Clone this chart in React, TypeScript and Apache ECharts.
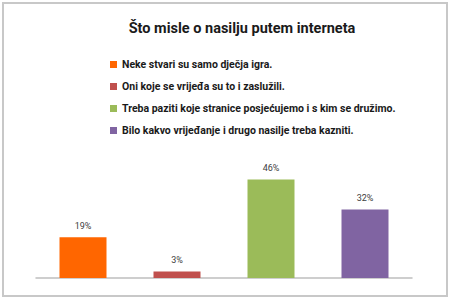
import React, { useEffect, useRef } from "react";
import * as echarts from "echarts";

const categories = ["A", "B", "C", "D"];
const seriesNames = [
  "Neke stvari su samo dječja igra.",
  "Oni koje se vrijeđa su to i zaslužili.",
  "Treba paziti koje stranice posjećujemo i s kim se družimo.",
  "Bilo kakvo vrijeđanje i drugo nasilje treba kazniti.",
];
const values = [19, 3, 46, 32];
const colors = ["#ff6600", "#c0504d", "#9bbb59", "#8064a2"];

export default function App() {
  const ref = useRef<HTMLDivElement>(null);
  useEffect(() => {
    const chart = echarts.init(ref.current!, null, { renderer: "svg" });
    const font = "Roboto, sans-serif";
    chart.setOption({
      animation: false,
      backgroundColor: "#ffffff",
      title: {
        text: "Što misle o nasilju putem interneta",
        left: 237,
        textAlign: "center",
        top: 16,
        textStyle: { fontFamily: font, fontSize: 14.5, fontWeight: "bold", color: "#1a1a1a" },
      },
      legend: {
        orient: "vertical",
        left: 105,
        top: 54,
        itemGap: 11,
        itemWidth: 7,
        itemHeight: 7,
        icon: "rect",
        data: seriesNames,
        textStyle: { fontFamily: font, fontSize: 10.5, fontWeight: "bold", color: "#1a1a1a" },
      },
      graphic: [
        {
          type: "rect",
          shape: { x: 3, y: 3, width: 444, height: 293 },
          style: { fill: "none", stroke: "#c8c8c8", lineWidth: 2 },
          silent: true,
        },
      ],
      grid: { left: 36, right: 38, top: 171, bottom: 21, containLabel: false },
      xAxis: {
        type: "category",
        data: categories,
        axisLine: { lineStyle: { color: "#bfbfbf", width: 1.5 } },
        axisTick: { show: false },
        axisLabel: { show: false },
      },
      yAxis: {
        type: "value",
        min: 0,
        max: 50,
        show: false,
        splitLine: { show: false },
      },
      series: seriesNames.map((name, i) => ({
        name,
        type: "bar",
        barWidth: 47,
        barGap: "-100%",
        itemStyle: { color: colors[i] },
        data: categories.map((_, j) => (j === i ? values[i] : null)),
        label: {
          show: true,
          position: "top",
          distance: 7,
          formatter: (p: any) => p.value + "%",
          fontFamily: font,
          fontSize: 9,
          color: "#404040",
        },
      })),
    });
    return () => chart.dispose();
  }, []);
  return <div ref={ref} style={{ position: "fixed", left: 0, top: 0, width: 450, height: 299 }} />;
}
